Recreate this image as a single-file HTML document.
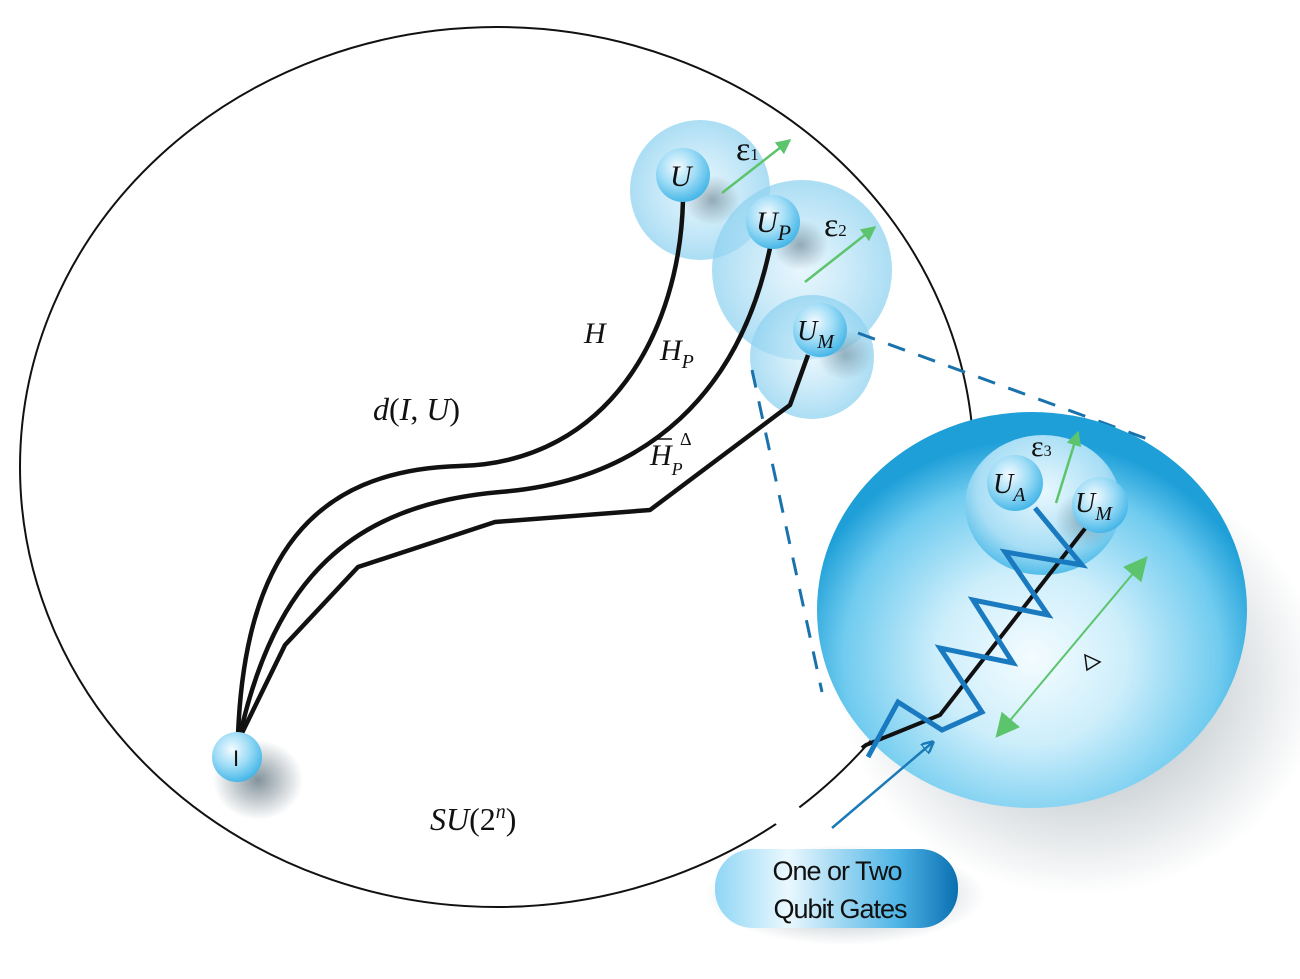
<!DOCTYPE html>
<html><head><meta charset="utf-8"><style>
html,body{margin:0;padding:0;background:#fff;}
svg{display:block;}
</style></head><body>
<svg width="1300" height="979" viewBox="0 0 1300 979" xmlns="http://www.w3.org/2000/svg">
<defs>
<radialGradient id="ball" cx="0.4" cy="0.35" r="0.7">
<stop offset="0" stop-color="#f4fbff"/><stop offset="0.5" stop-color="#9edcf6"/><stop offset="1" stop-color="#3bb2e6"/>
</radialGradient>
<radialGradient id="halo" cx="0.5" cy="0.5" r="0.5">
<stop offset="0" stop-color="#d8f0fb" stop-opacity="0.6"/><stop offset="1" stop-color="#8fd2f0" stop-opacity="0.75"/>
</radialGradient>
<radialGradient id="big" cx="0.5" cy="0.62" r="0.55">
<stop offset="0" stop-color="#f4fcff"/><stop offset="0.4" stop-color="#cdeefb"/><stop offset="0.8" stop-color="#6fcbef"/><stop offset="1" stop-color="#1e9fd8"/>
</radialGradient>
<radialGradient id="inner" cx="0.5" cy="0.4" r="0.6">
<stop offset="0" stop-color="#e9f8fe"/><stop offset="0.7" stop-color="#a8def5"/><stop offset="1" stop-color="#52bde9"/>
</radialGradient>
<radialGradient id="shadow" cx="0.5" cy="0.5" r="0.5">
<stop offset="0" stop-color="#1e3a4a" stop-opacity="0.55"/><stop offset="1" stop-color="#1e3a4a" stop-opacity="0"/>
</radialGradient>
<linearGradient id="pill" x1="0" x2="1" y1="0" y2="0">
<stop offset="0" stop-color="#8fd6f5"/><stop offset="0.3" stop-color="#eaf8fe"/><stop offset="0.75" stop-color="#4fb5e6"/><stop offset="1" stop-color="#0a6fb0"/>
</linearGradient>
<marker id="ag" viewBox="0 0 10 10" refX="9" refY="5" markerWidth="6" markerHeight="6" orient="auto-start-reverse"><path d="M0,0 L10,5 L0,10 z" fill="#5cc46c"/></marker>
<marker id="ag2" viewBox="0 0 10 10" refX="9" refY="5" markerWidth="12" markerHeight="12" orient="auto-start-reverse"><path d="M0,0 L10,5 L0,10 z" fill="#5cc46c"/></marker>
<marker id="ab" viewBox="0 0 10 10" refX="9" refY="5" markerWidth="5" markerHeight="5" orient="auto"><path d="M0,0 L10,5 L0,10 z" fill="none" stroke="#1a7ab8" stroke-width="2"/></marker>
</defs>

<ellipse cx="497" cy="467" rx="477" ry="440" fill="none" stroke="#111" stroke-width="2"/>
<line x1="778" y1="826" x2="798" y2="806" stroke="#fff" stroke-width="8"/>

<ellipse cx="258" cy="780" rx="45" ry="40" fill="url(#shadow)"/>
<ellipse cx="1080" cy="680" rx="240" ry="215" fill="url(#shadow)" opacity="0.8"/>
<ellipse cx="845" cy="895" rx="140" ry="50" fill="url(#shadow)" opacity="0.8"/>

<circle cx="700" cy="190" r="70" fill="url(#halo)"/>
<circle cx="802" cy="270" r="90" fill="url(#halo)"/>
<circle cx="812" cy="357" r="62" fill="url(#halo)"/>
<ellipse cx="712" cy="200" rx="28" ry="25" fill="url(#shadow)" opacity="0.7"/>
<ellipse cx="800" cy="245" rx="28" ry="25" fill="url(#shadow)" opacity="0.7"/>
<ellipse cx="845" cy="355" rx="28" ry="25" fill="url(#shadow)" opacity="0.6"/>

<g fill="none" stroke="#111" stroke-width="4.5" stroke-linejoin="round">
<path d="M683,200 C 680,330 610,462 460,466 C 310,470 245,560 238,735"/>
<path d="M770,248 C 740,390 650,480 500,492 C 350,505 275,580 240,735"/>
<path d="M808,355 L790,405 L650,510 L495,522 L358,567 L285,645 L241,735"/>
</g>

<g stroke="#1a72ac" stroke-width="3" stroke-dasharray="18,14" fill="none">
<line x1="858" y1="333" x2="1150" y2="440"/>
<line x1="752" y1="370" x2="822" y2="692"/>
</g>

<ellipse cx="1032" cy="610" rx="215" ry="198" fill="url(#big)"/>
<ellipse cx="1043" cy="505" rx="78" ry="70" fill="url(#inner)"/>
<ellipse cx="1085" cy="520" rx="30" ry="28" fill="url(#shadow)" opacity="0.6"/>

<path d="M862,748 L866,745 L940,715 L1087,526" fill="none" stroke="#111" stroke-width="4"/>
<polyline points="868,757 898,702 942,730 982,712 940,648 1013,663 973,600 1048,615 1005,552 1082,565 1035,508" fill="none" stroke="#1a7ac0" stroke-width="5" stroke-linejoin="miter"/>

<g stroke="#5cc46c" stroke-width="2.5" fill="none">
<line x1="722" y1="193" x2="790" y2="140" marker-end="url(#ag)"/>
<line x1="805" y1="282" x2="875" y2="227" marker-end="url(#ag)"/>
<line x1="1056" y1="503" x2="1078" y2="432" marker-end="url(#ag)"/>
<line x1="997" y1="736" x2="1146" y2="558" marker-end="url(#ag2)" marker-start="url(#ag2)" stroke-width="2"/>
</g>
<path d="M1085,655 L1100,662 L1087,670 z" fill="none" stroke="#111" stroke-width="1.5"/>
<line x1="832" y1="828" x2="933" y2="742" stroke="#1a7ab8" stroke-width="2.5" marker-end="url(#ab)"/>

<circle cx="683" cy="175" r="27" fill="url(#ball)"/>
<circle cx="773" cy="222" r="27" fill="url(#ball)"/>
<circle cx="820" cy="330" r="27" fill="url(#ball)"/>
<circle cx="237" cy="757" r="25" fill="url(#ball)"/>
<circle cx="1015" cy="483" r="28" fill="url(#ball)"/>
<circle cx="1100" cy="505" r="28" fill="url(#ball)"/>

<g font-family="Liberation Serif, serif" font-style="italic" fill="#111">
<text x="670" y="186" font-size="30">U</text>
<text x="756" y="232" font-size="30">U<tspan font-size="22" dy="8">P</tspan></text>
<text x="797" y="340" font-size="28">U<tspan font-size="20" dy="8">M</tspan></text>
<text x="993" y="493" font-size="28">U<tspan font-size="20" dy="8">A</tspan></text>
<text x="1075" y="512" font-size="28">U<tspan font-size="20" dy="8">M</tspan></text>
<text x="584" y="343" font-size="30">H</text>
<text x="660" y="360" font-size="30">H<tspan font-size="20" dy="8">P</tspan></text>
<text x="373" y="420" font-size="32" font-style="normal"><tspan font-style="italic">d</tspan>(<tspan font-style="italic">I</tspan>, <tspan font-style="italic">U</tspan>)</text>
<text x="650" y="465" font-size="30">H<tspan font-size="18" dy="10">P</tspan></text>
<text x="680" y="445" font-size="18" font-style="normal">Δ</text>
<line x1="653" y1="439" x2="672" y2="439" stroke="#111" stroke-width="1.5"/>
<text x="430" y="830" font-size="32"><tspan>SU</tspan><tspan font-style="normal">(2</tspan><tspan font-size="20" dy="-12">n</tspan><tspan font-style="normal" dy="12">)</tspan></text>
</g>
<g font-family="Liberation Serif, serif" fill="#111">
<text x="736" y="160" font-size="34">ε<tspan font-size="17">1</tspan></text>
<text x="824" y="236" font-size="34">ε<tspan font-size="17">2</tspan></text>
<text x="1031" y="456" font-size="30">ε<tspan font-size="16">3</tspan></text>
<text x="233" y="766" font-size="22" font-family="Liberation Sans, sans-serif">I</text>
</g>

<rect x="715" y="849" width="243" height="79" rx="38" fill="url(#pill)"/>
<g font-family="Liberation Sans, sans-serif" font-size="27" fill="#111" text-anchor="middle" letter-spacing="-1">
<text x="837" y="880">One or Two</text>
<text x="840" y="918">Qubit Gates</text>
</g>
</svg>
</body></html>
